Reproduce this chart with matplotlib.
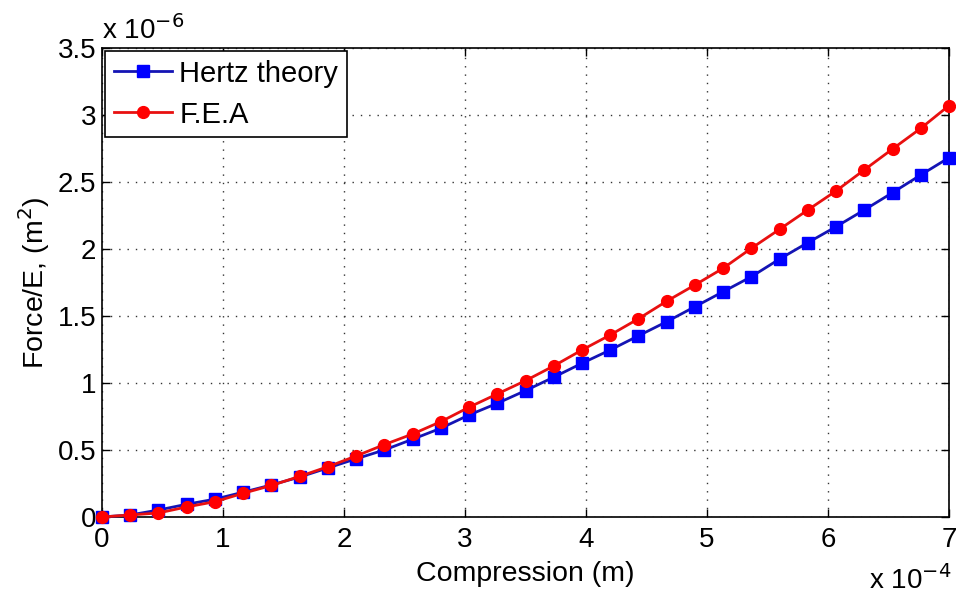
import numpy as np
import matplotlib.pyplot as plt

plt.rcParams['font.family'] = ['Liberation Sans', 'DejaVu Sans']

# compression, units of 1e-4 m (31 points from 0 to 7)
compression = np.linspace(0, 7, 31)

# Force/E, units of 1e-6 m^2
hertz = [0, 0.015, 0.052, 0.095, 0.133, 0.185, 0.239, 0.298, 0.366, 0.434,
         0.50, 0.58, 0.662, 0.761, 0.848, 0.943, 1.043, 1.147, 1.246, 1.352,
         1.457, 1.569, 1.681, 1.793, 1.925, 2.047, 2.166, 2.291, 2.42, 2.552,
         2.681]
fea = [0, 0.015, 0.03, 0.075, 0.114, 0.177, 0.235, 0.303, 0.375, 0.455,
       0.54, 0.619, 0.711, 0.819, 0.918, 1.017, 1.127, 1.246, 1.358, 1.479,
       1.61, 1.731, 1.856, 2.005, 2.147, 2.291, 2.433, 2.59, 2.746, 2.90,
       3.07]

xticks = [0, 1, 2, 3, 4, 5, 6, 7]
yticks = [0, 0.5, 1, 1.5, 2, 2.5, 3, 3.5]

fig = plt.figure(figsize=(9.56, 6.01), dpi=100)
ax = fig.add_axes([0.1067, 0.1398, 0.886, 0.7805])

ax.plot(compression, hertz, '-s', color='#1414b4', mfc='#0000ff', mec='#0000ff',
        lw=2, ms=9, label='Hertz theory', clip_on=False, zorder=3)
ax.plot(compression, fea, '-o', color='#e81010', mfc='#ff0000', mec='#ff0000',
        lw=2, ms=8.5, label='F.E.A', clip_on=False, zorder=4)

ax.set_xlim(0, 7)
ax.set_ylim(0, 3.5)
ax.set_xticks(xticks)
ax.set_yticks(yticks)
ax.set_xticklabels([f'{t:g}' for t in xticks])
ax.set_yticklabels([f'{t:g}' for t in yticks])
ax.tick_params(direction='in', length=6, width=1, labelsize=20, top=True, right=True)
ax.tick_params(axis='x', pad=7)
ax.tick_params(axis='y', pad=4)
ax.grid(True, linestyle=(0, (1, 5)), color='#333333', linewidth=1, zorder=0)
ax.set_axisbelow(True)
for s in ax.spines.values():
    s.set_linewidth(1.2)

ax.set_xlabel('Compression (m)', fontsize=20.5, labelpad=6)
ax.set_ylabel('Force/E, (m$^2$)', fontsize=20.5, labelpad=4)

# MATLAB style exponent labels
fig.text(0.107, 0.935, r'x 10$^{-6}$', fontsize=20, ha='left', va='baseline')
fig.text(0.995, 0.02, r'x 10$^{-4}$', fontsize=20, ha='right', va='baseline')

leg = ax.legend(loc='upper left', fontsize=21, frameon=True, fancybox=False,
                edgecolor='black', framealpha=1, borderpad=0.3, labelspacing=0.45,
                handlelength=2.0, handletextpad=0.25, borderaxespad=0.1)
leg.get_frame().set_linewidth(1.2)

fig.savefig('out.png', dpi=100)
